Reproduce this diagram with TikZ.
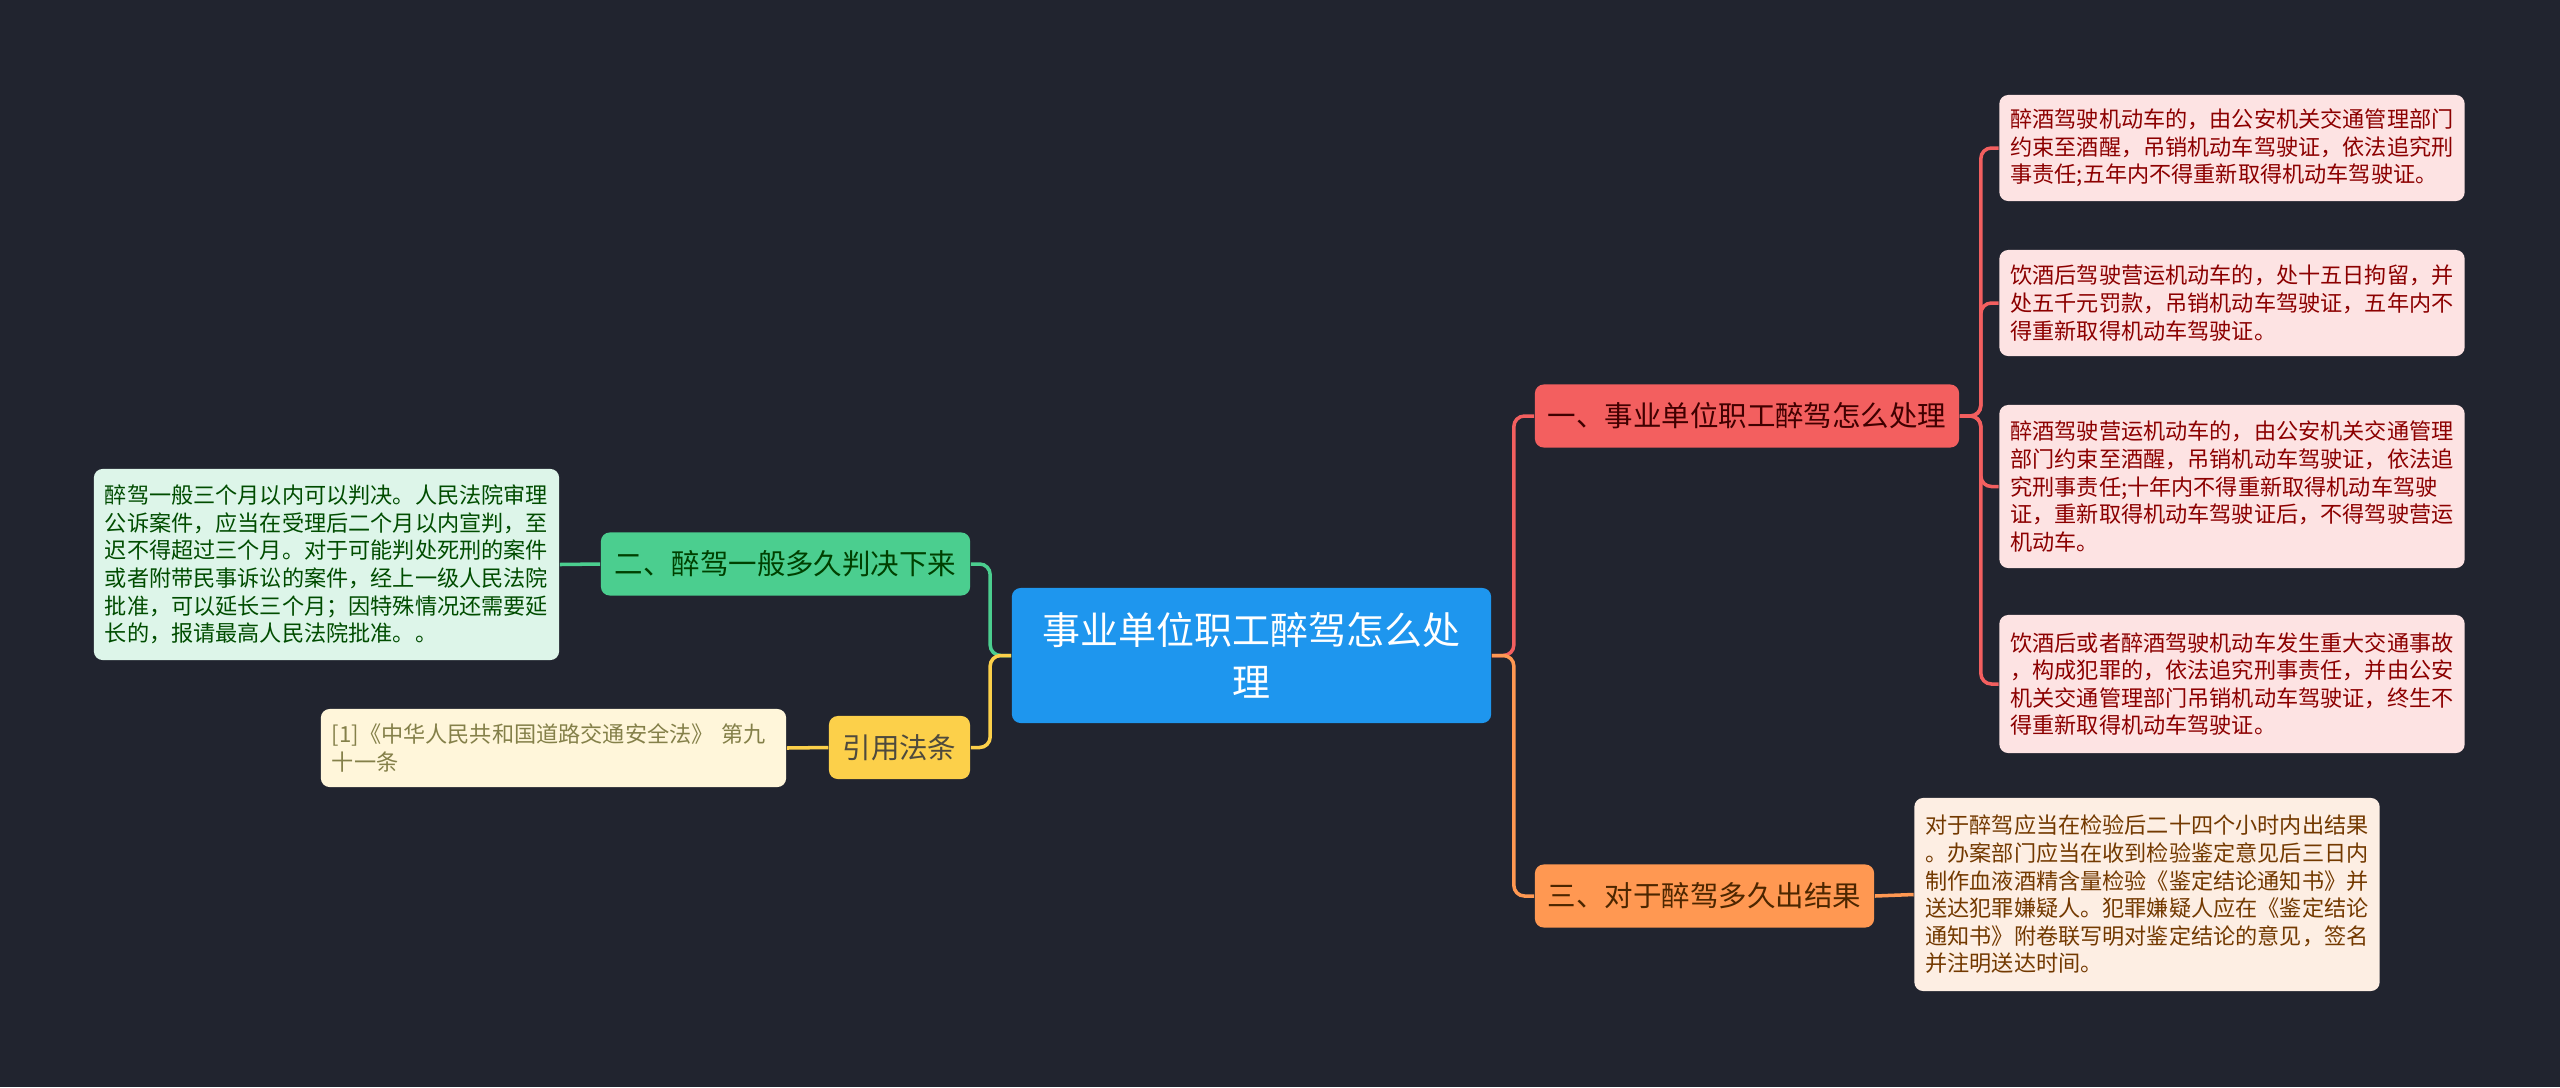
\documentclass[tikz,border=0pt]{standalone}
\usepackage{fontspec}
\setmainfont{Noto Sans CJK SC}
\usepackage{tikz}
\usetikzlibrary{positioning,calc}

\definecolor{bgc}{HTML}{21242F}
\definecolor{rootc}{HTML}{1E96EE}
\definecolor{redc}{HTML}{F35F5F}
\definecolor{greenc}{HTML}{4BCE8F}
\definecolor{yellowc}{HTML}{FCD04A}
\definecolor{orangec}{HTML}{FF9852}
\definecolor{redleaf}{HTML}{FDE3E3}
\definecolor{greenleaf}{HTML}{DDF5E9}
\definecolor{yellowleaf}{HTML}{FFF6DA}
\definecolor{orangeleaf}{HTML}{FDEEE3}

\begin{document}
\begin{tikzpicture}[x=0.01cm, y=-0.01cm,
    every node/.style={font=\fontsize{6.3}{7.85}\selectfont},
    topic/.style={rounded corners=2.5pt, inner sep=0pt, align=center, minimum height=0.63cm, font=\fontsize{8.1}{10}\selectfont},
    leaf/.style={rounded corners=2.5pt, inner xsep=0.11cm, inner ysep=0pt, text width=4.43cm, align=left},
    link/.style={line width=1pt, rounded corners=3pt}]
    \fill[bgc] (0,0) rectangle (2560,1087);

    % centre
    \node[rounded corners=2.5pt, fill=rootc, text=white, align=center, minimum width=4.79cm, minimum height=1.35cm,
          font=\fontsize{10.8}{14.8}\selectfont] (root) at (1251.5,655.5) {事业单位职工醉驾怎么处\\理};

    % main topics
    \node[topic, fill=redc, text=red!25!black, minimum width=4.24cm] (b1) at (1747,416) {一、事业单位职工醉驾怎么处理};
    \node[topic, fill=greenc, text=green!25!black, minimum width=3.69cm] (b2) at (785.5,564) {二、醉驾一般多久判决下来};
    \node[topic, fill=orangec, text=orange!30!black, minimum width=3.39cm] (b3) at (1704.5,896) {三、对于醉驾多久出结果};
    \node[topic, fill=yellowc, text=yellow!20!black, minimum width=1.41cm] (b4) at (899.5,747.5) {引用法条};

    % details
    \node[leaf, fill=redleaf, text=red!55!black, minimum height=1.06cm] (rl1) at (2232,148)
        {醉酒驾驶机动车的，由公安机关交通管理部门\\约束至酒醒，吊销机动车驾驶证，依法追究刑\\事责任;五年内不得重新取得机动车驾驶证。};
    \node[leaf, fill=redleaf, text=red!55!black, minimum height=1.06cm] (rl2) at (2232,303)
        {饮酒后驾驶营运机动车的，处十五日拘留，并\\处五千元罚款，吊销机动车驾驶证，五年内不\\得重新取得机动车驾驶证。};
    \node[leaf, fill=redleaf, text=red!55!black, minimum height=1.63cm] (rl3) at (2232,486.5)
        {醉酒驾驶营运机动车的，由公安机关交通管理\\部门约束至酒醒，吊销机动车驾驶证，依法追\\究刑事责任;十年内不得重新取得机动车驾驶\\证，重新取得机动车驾驶证后，不得驾驶营运\\机动车。};
    \node[leaf, fill=redleaf, text=red!55!black, minimum height=1.38cm] (rl4) at (2232,684)
        {饮酒后或者醉酒驾驶机动车发生重大交通事故\\，构成犯罪的，依法追究刑事责任，并由公安\\机关交通管理部门吊销机动车驾驶证，终生不\\得重新取得机动车驾驶证。};
    \node[leaf, fill=greenleaf, text=green!30!black, minimum height=1.91cm] (gl1) at (326.5,564.5)
        {醉驾一般三个月以内可以判决。人民法院审理\\公诉案件，应当在受理后二个月以内宣判，至\\迟不得超过三个月。对于可能判处死刑的案件\\或者附带民事诉讼的案件，经上一级人民法院\\批准，可以延长三个月；因特殊情况还需要延\\长的，报请最高人民法院批准。。};
    \node[leaf, fill=orangeleaf, text=orange!45!black, minimum height=1.93cm] (ol1) at (2147,894.5)
        {对于醉驾应当在检验后二十四个小时内出结果\\。办案部门应当在收到检验鉴定意见后三日内\\制作血液酒精含量检验《鉴定结论通知书》并\\送达犯罪嫌疑人。犯罪嫌疑人应在《鉴定结论\\通知书》附卷联写明对鉴定结论的意见，签名\\并注明送达时间。};
    \node[leaf, fill=yellowleaf, text=yellow!45!black, minimum height=0.78cm] (yl1) at (553.5,748)
        {[1]《中华人民共和国道路交通安全法》 第九\\十一条};

    % links
    \draw[link, greenc] (root.west) -- ++(-21,0) |- (b2.east);
    \draw[link, yellowc] (root.west) -- ++(-21,0) |- (b4.east);
    \draw[link, redc] (root.east) -- ++(22,0) |- (b1.west);
    \draw[link, orangec] (root.east) -- ++(22,0) |- (b3.west);
    \foreach \n in {1,...,4}
        \draw[link, redc] (b1.east) -- ++(21,0) |- (rl\n.west);
    \draw[link, greenc] (b2.west) -- (gl1.east);
    \draw[link, orangec] (b3.east) -- (ol1.west);
    \draw[link, yellowc] (b4.west) -- (yl1.east);
\end{tikzpicture}
\end{document}
